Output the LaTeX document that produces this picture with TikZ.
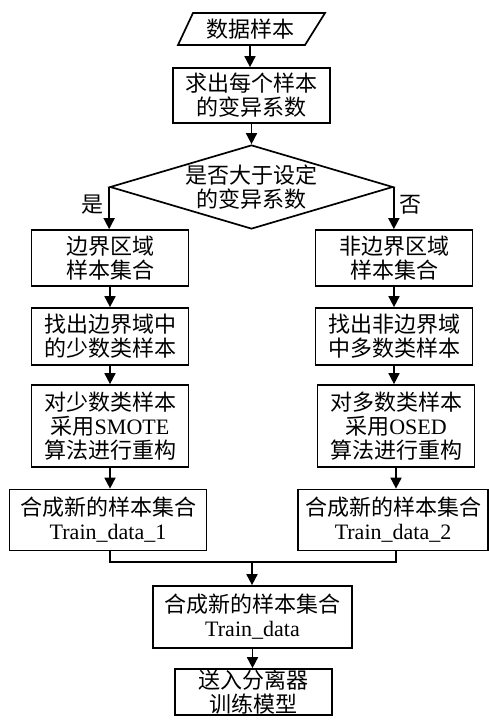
\documentclass[tikz,border=0pt]{standalone}
\usepackage{fontspec}
\setmainfont{Noto Sans CJK SC}
\newfontfamily\lat{Liberation Serif}
\usetikzlibrary{shapes.geometric,arrows.meta}
\begin{document}
\begin{tikzpicture}[x=1pt,y=-1pt,
 every node/.style={font=\fontsize{22}{24}\selectfont, align=center, inner sep=0pt},
 box/.style={draw, line width=1.7pt, minimum width=157pt},
 arr/.style={line width=1.7pt, -{Triangle[length=11pt,width=11pt]}},
 ln/.style={line width=1.7pt}]
\useasboundingbox (0,0) rectangle (489,727);
% input
\node[minimum height=32pt, minimum width=120pt] (data) at (250,29) {数据样本};
\draw[ln] (193,13) -- (325,13) -- (305,45) -- (178,45) -- cycle;
\node[box, minimum height=55pt] (coef) at (251.5,95.5) {求出每个样本\\的变异系数};
\node[draw, diamond, aspect=3.37, line width=1.7pt, minimum width=283pt, minimum height=84pt] (dia) at (251.5,187) {是否大于设定\\的变异系数};
% left column
\node[box, minimum height=56pt] (l1) at (110,258) {边界区域\\样本集合};
\node[box, minimum height=57pt] (l2) at (110,336.5) {找出边界域中\\的少数类样本};
\node[box, minimum height=82pt] (l3) at (110,426) {对少数类样本\\采用{\lat SMOTE}\\算法进行重构};
\node[box, minimum width=197pt, minimum height=61pt] (l4) at (108,520) {合成新的样本集合\\{\lat Train\_data\_1}};
% right column
\node[box, minimum height=56pt] (r1) at (394,258) {非边界区域\\样本集合};
\node[box, minimum height=57pt] (r2) at (394,336.5) {找出非边界域\\中多数类样本};
\node[box, minimum height=82pt] (r3) at (396,426) {对多数类样本\\采用{\lat OSED}\\算法进行重构};
\node[box, minimum width=190pt, minimum height=61pt] (r4) at (393,520) {合成新的样本集合\\{\lat Train\_data\_2}};
% bottom
\node[box, minimum width=199pt, minimum height=62pt] (t) at (252.5,617) {合成新的样本集合\\{\lat Train\_data}};
\node[box, minimum height=46pt] (f) at (253.5,692) {送入分离器\\训练模型};
% labels
\node (yes) at (92,205) {是};
\node (no) at (410,205) {否};
% connectors
\draw[arr] (data.south) -- (data.south |- coef.north);
\draw[arr] (coef.south) -- (dia.north);
\draw[arr] (dia.west) -- (dia.west |- l1.north);
\draw[arr] (dia.east) -- (dia.east |- r1.north);
\draw[arr] (l1) -- (l2);
\draw[arr] (l2) -- (l3);
\draw[arr] (l3.south) -- (l3.south |- l4.north);
\draw[arr] (r1) -- (r2);
\draw[arr] (r2.south) -- (r2.south |- r3.north);
\draw[arr] (r3.south) -- (r3.south |- r4.north);
\coordinate (m) at (252,562);
\draw[ln] (l3.south |- l4.south) -- (l3.south |- m) -- (r3.south |- m) -- (r3.south |- r4.south);
\draw[arr] (m) -- (m |- t.north);
\draw[arr] (t.south) -- (t.south |- f.north);
\end{tikzpicture}
\end{document}
